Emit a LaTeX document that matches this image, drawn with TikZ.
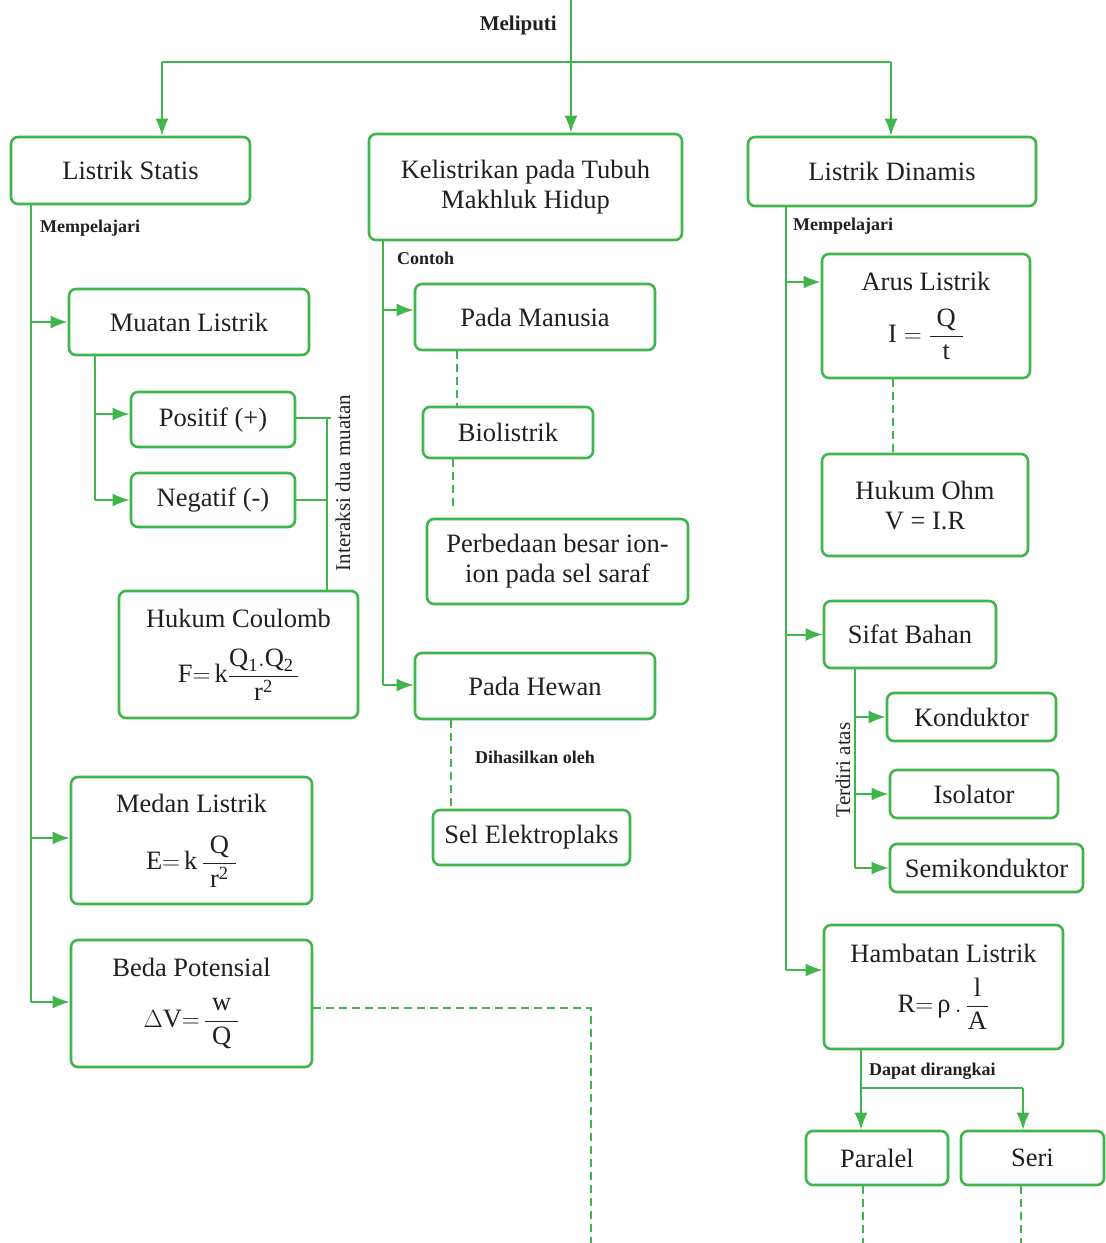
\documentclass[tikz,border=0pt]{standalone}
\usepackage{amsmath}
\usepackage{fontspec}
\setmainfont{Liberation Serif}
\usetikzlibrary{arrows.meta}
\definecolor{gr}{HTML}{3FB54B}
\definecolor{ink}{HTML}{231F20}
\newcommand{\tx}[1]{\text{#1}}
\begin{document}
\begin{tikzpicture}[x=1pt,y=-1pt,
  box/.style={draw=gr, line width=2.6pt, rounded corners=7pt, fill=white, text=ink,
    align=center, inner sep=0pt, font=\fontsize{26.5}{30}\selectfont},
  conn/.style={draw=gr, line width=2pt},
  arr/.style={conn, -{Latex[length=17pt,width=13pt]}},
  dsh/.style={conn, dash pattern=on 8pt off 5pt},
  lbl/.style={text=ink, inner sep=0pt, font=\fontsize{18}{20}\selectfont\bfseries},
  rlbl/.style={text=ink, inner sep=0pt, font=\fontsize{21}{23}\selectfont, rotate=90},
]
\useasboundingbox (0,0) rectangle (1106,1243);

% ---- top level ----
\node[box, minimum width=239pt, minimum height=67pt] (ls) at (130.5,170.5) {Listrik Statis};
\node[box, minimum width=313pt, minimum height=106pt] (kel) at (525.5,187) {Kelistrikan pada Tubuh\\Makhluk Hidup};
\node[box, minimum width=288pt, minimum height=69pt] (ld) at (892,171.5) {Listrik Dinamis};

\coordinate (top) at (571,0);
\coordinate (hl) at (162,62);
\coordinate (hr) at (891,62);
\node[text=ink, inner sep=0pt, anchor=east, font=\fontsize{21}{23}\selectfont\bfseries] (mel) at (557,25) {Meliputi};
\draw[arr] (top) -- (top |- kel.north);
\draw[conn] (hl) -- (hr);
\draw[arr] (hl) -- (hl |- ls.north);
\draw[arr] (hr) -- (hr |- ld.north);

% ---- left column ----
\node[box, minimum width=240pt, minimum height=66pt] (mu) at (189,322) {Muatan Listrik};
\node[box, minimum width=164pt, minimum height=55pt] (pos) at (213,419.5) {Positif (+)};
\node[box, minimum width=164pt, minimum height=54pt] (neg) at (213,500) {Negatif (-)};
\node[box, minimum width=239pt, minimum height=127pt] (hc) at (238.5,654.5)
  {Hukum Coulomb\\[20pt] $\tx{F}{=}\,\tx{k}\dfrac{\tx{Q}_{\tx{1}}.\tx{Q}_{\tx{2}}\,}{\tx{r}^{\tx{2}}}$};
\node[box, minimum width=241pt, minimum height=127pt] (me) at (191.5,840.5)
  {Medan Listrik\\[22pt] $\tx{E}{=}\,\tx{k}\,\dfrac{\;\tx{Q}\;}{\tx{r}^{\tx{2}}}$};
\node[box, minimum width=241pt, minimum height=127pt] (bp) at (191.5,1003.5)
  {Beda Potensial\\[21pt] $\Delta\tx{V}{=}\,\dfrac{\;\tx{w}\;}{\tx{Q}}$};

\node[lbl, anchor=west] (mp1) at (40,228) {Mempelajari};
\coordinate (sL) at (31,1002);
\draw[conn] (sL |- ls.south) -- (sL);
\draw[arr] (mu.west -| sL) -- (mu.west);
\coordinate (meA) at (31,838);
\draw[arr] (meA) -- (meA -| me.west);
\draw[arr] (sL) -- (sL -| bp.west);

\coordinate (sM) at (95,500);
\draw[conn] (sM |- mu.south) -- (sM);
\coordinate (poA) at (95,414);
\draw[arr] (poA) -- (poA -| pos.west);
\draw[arr] (sM) -- (neg.west);

\coordinate (iX) at (327,418);
\coordinate (iT) at (331,418);
\draw[conn] (iX -| pos.east) -- (iT);
\draw[conn] (iX) -- (iX |- hc.north);
\draw[conn] (neg.east) -- (neg.east -| iX);
\node[rlbl] (ia) at (343,483) {Interaksi dua muatan};

\coordinate (bpd) at (591,1008);
\coordinate (bpe) at (591,1243);
\draw[dsh] (bpd -| bp.east) -- (bpd) -- (bpe);

% ---- middle column ----
\node[box, minimum width=240pt, minimum height=66pt] (pm) at (535,317) {Pada Manusia};
\node[box, minimum width=170pt, minimum height=51pt] (bio) at (508,432.5) {Biolistrik};
\node[box, minimum width=261pt, minimum height=85pt] (pb) at (557.5,561.5) {Perbedaan besar ion-\\ion pada sel saraf};
\node[box, minimum width=240pt, minimum height=66pt] (ph) at (535,686) {Pada Hewan};
\node[box, minimum width=197pt, minimum height=55pt] (sel) at (531.5,837.5) {Sel Elektroplaks};

\node[lbl, anchor=west] (con) at (397,258) {Contoh};
\node[lbl] (dih) at (535,757) {Dihasilkan oleh};
\coordinate (sC) at (383,685);
\draw[conn] (sC |- kel.south) -- (sC);
\coordinate (pmA) at (383,310);
\draw[arr] (pmA) -- (pmA -| pm.west);
\draw[arr] (sC) -- (sC -| ph.west);
\coordinate (d1) at (457,0);
\draw[dsh] (d1 |- pm.south) -- (d1 |- bio.north);
\coordinate (d2) at (453,510);
\draw[dsh] (d2 |- bio.south) -- (d2);
\coordinate (d3) at (451,0);
\draw[dsh] (d3 |- ph.south) -- (d3 |- sel.north);

% ---- right column ----
\node[box, minimum width=208pt, minimum height=124pt] (ar) at (926,316)
  {Arus Listrik\\[17pt] $\tx{I} = \dfrac{\;\tx{Q}\;}{\tx{t}}$};
\node[box, minimum width=206pt, minimum height=102pt] (oh) at (925,505) {Hukum Ohm\\V = I.R};
\node[box, minimum width=172pt, minimum height=67pt] (sb) at (910,634.5) {Sifat Bahan};
\node[box, minimum width=169pt, minimum height=48pt] (ko) at (971.5,717) {Konduktor};
\node[box, minimum width=168pt, minimum height=48pt] (is) at (974,794) {Isolator};
\node[box, minimum width=193pt, minimum height=48pt] (se) at (986.5,868) {Semikonduktor};
\node[box, minimum width=239pt, minimum height=124pt] (hb) at (943.5,987)
  {Hambatan Listrik\\[14pt] $\tx{R}{=}\,\tx{ρ}\,.\,\dfrac{\;\tx{l}\;}{\tx{A}}$};
\node[box, minimum width=142pt, minimum height=54pt] (par) at (877,1158) {Paralel};
\node[box, minimum width=143pt, minimum height=54pt] (ser) at (1032.5,1158) {Seri};

\node[lbl, anchor=west] (mp2) at (793,226) {Mempelajari};
\node[lbl, anchor=west] (dap) at (869,1071) {Dapat dirangkai};
\node[rlbl] (ter) at (843,770) {Terdiri atas};

\coordinate (sR) at (786,970);
\draw[conn] (sR |- ld.south) -- (sR);
\coordinate (arA) at (786,282);
\draw[arr] (arA) -- (arA -| ar.west);
\draw[arr] (sb.west -| sR) -- (sb.west);
\draw[arr] (sR) -- (sR -| hb.west);
\coordinate (d4) at (893,0);
\draw[dsh] (d4 |- ar.south) -- (d4 |- oh.north);

\coordinate (sS) at (855,868);
\draw[conn] (sS |- sb.south) -- (sS);
\draw[arr] (ko.west -| sS) -- (ko.west);
\draw[arr] (is.west -| sS) -- (is.west);
\draw[arr] (sS) -- (se.west);

\coordinate (hbL) at (861,1088);
\coordinate (hbR) at (1023,1088);
\draw[arr] (hbL |- hb.south) -- (hbL |- par.north);
\draw[conn] (hbL) -- (hbR);
\draw[arr] (hbR) -- (hbR |- ser.north);

\coordinate (pd) at (863,1243);
\coordinate (sd) at (1021,1243);
\draw[dsh] (pd |- par.south) -- (pd);
\draw[dsh] (sd |- ser.south) -- (sd);
\end{tikzpicture}
\end{document}
